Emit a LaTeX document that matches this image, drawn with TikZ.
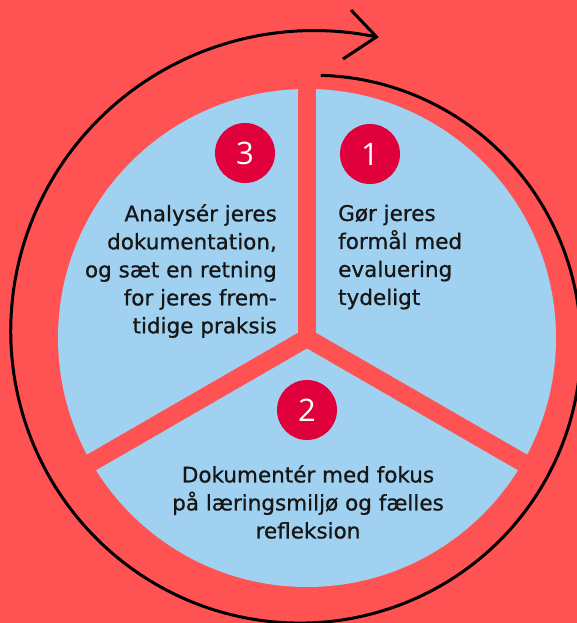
\documentclass[tikz,border=0pt]{standalone}
\usepackage{fontspec}
\setmainfont{Open Sans}
\newfontfamily\stepfont{DejaVu Sans}[FakeBold=0.8]
\definecolor{bgred}{HTML}{FF5252}
\definecolor{pieblue}{HTML}{A0D1F0}
\definecolor{numred}{HTML}{E0003C}
\definecolor{txt}{HTML}{161616}
\begin{document}
\begin{tikzpicture}[x=1pt,y=1pt,
  gap/.style={draw=bgred, line width=18pt, line cap=round},
  numcirc/.style={circle, fill=numred, minimum size=60pt, inner sep=0pt, text=white, font=\fontsize{31}{31}\selectfont},
  stepText/.style={text=txt, inner sep=0pt, font=\stepfont\fontsize{21.5}{28}\selectfont},
  spiral/.style={line width=3pt, draw=black},
]
\useasboundingbox (0,0) rectangle (577,623);
\clip (0,0) rectangle (577,623);
\fill[bgred] (0,0) rectangle (577,623);
\coordinate (c) at (307,285);
% pie
\fill[pieblue] (c) circle[radius=249];
\draw[gap] (c) -- ++(90:260);
\draw[gap] (c) -- ++(210:260);
\draw[gap] (c) -- ++(330:260);
% spiral arrow
\draw[spiral] plot[domain=0:370, samples=200, smooth] ({307+(263+0.12432*\x)*cos(87-\x)}, {285+(263+0.12432*\x)*sin(87-\x)});
\coordinate (tip) at ({307+309*cos(77)}, {285+309*sin(77)});
\coordinate (armA) at (351,613);
\coordinate (armB) at (343,564);
\draw[spiral, line join=miter, line cap=butt] (armA) -- (tip) -- (armB);
% numbers
\node[numcirc] (n3) at (245,470) {3};
\node[numcirc] (n1) at (370,469) {1};
\node[numcirc] (n2) at (307,213) {2};
% texts
\node[stepText, align=right, anchor=east] (t3) at (277,352) {Analysér jeres\\dokumentation,\\og sæt en retning\\for jeres frem-\\tidige praksis};
\node[stepText, align=left, anchor=west] (t1) at (338,366) {Gør jeres\\formål med\\evaluering\\tydeligt};
\node[stepText, align=center, anchor=center] (t2) at (308,121) {Dokumentér med fokus\\på læringsmiljø og fælles\\refleksion};
\end{tikzpicture}
\end{document}
